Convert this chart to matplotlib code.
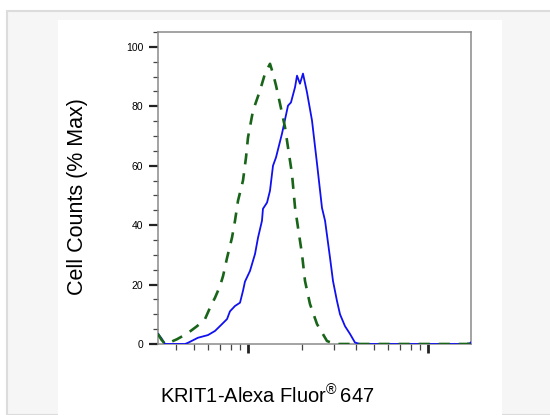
import matplotlib
matplotlib.use('Agg')
import matplotlib.pyplot as plt
from matplotlib.patches import Rectangle
from matplotlib.ticker import LogLocator, MultipleLocator, NullFormatter

plt.rcParams['font.family'] = ['Liberation Sans', 'DejaVu Sans']
plt.rcParams['mathtext.fontset'] = 'custom'
plt.rcParams['mathtext.rm'] = 'Liberation Sans'

# KRIT1 stained sample (blue, solid)
stain_x = [316, 330, 346, 447, 464, 527, 599, 656, 717, 765, 794, 847, 903, 938,
           962, 1026, 1094, 1137, 1196, 1211, 1276, 1325, 1377, 1431, 1545, 1668,
           1733, 1825, 1872, 1944, 2021, 2127, 2268, 2418, 2577, 2680, 2856, 2967,
           3121, 3245, 3459, 3687, 3929, 4191, 16800, 17300]
stain_y = [3.4, 2.0, 0, 0, 0.4, 2.1, 3.0, 4.4, 6.7, 8.4, 11.0, 12.8, 13.9, 17.9,
           21.0, 24.6, 30.3, 35.8, 41.5, 45.5, 47.6, 51.6, 60.0, 62.8, 70.8, 80.2,
           81.3, 86.4, 90.3, 87.6, 91.0, 84.7, 75.2, 60.7, 45.8, 41.5, 29.0, 21.2,
           14.5, 10.0, 6.0, 3.4, 0.5, 0, 0, 0.5]

# isotype / unstained control (green, dashed)
ctrl_x = [316, 330, 346, 360, 403, 459, 521, 577, 615, 656, 699, 727, 765, 815,
          847, 880, 938, 975, 1000, 1066, 1166, 1243, 1325, 1377, 1431, 1506,
          1606, 1668, 1755, 1825, 1896, 1995, 2074, 2209, 2418, 2748, 3041,
          16800, 17300]
ctrl_y = [3.4, 1.5, 0, 0.3, 1.6, 3.5, 6.0, 8.4, 12.2, 15.6, 19.5, 22.9, 29.0, 35.8,
          41.5, 48.2, 55.0, 62.8, 69.5, 78.5, 85.3, 91.0, 94.3, 91.0, 87.0, 80.9,
          72.9, 66.2, 57.3, 46.0, 39.2, 30.3, 21.2, 13.5, 6.7, 1.0, 0,
          0, 2.0]

y_ticks = [0, 20, 40, 60, 80, 100]

fig = plt.figure(figsize=(5.5, 4.15), dpi=100)
fig.patch.set_facecolor('white')

# page-like background panels
fig.add_artist(Rectangle((7 / 550, 0), 1, 1 - 11 / 415, transform=fig.transFigure,
                         facecolor='#f6f6f6', edgecolor='#dcdcdc', linewidth=1.5, zorder=-3))
fig.add_artist(Rectangle((58 / 550, 0), (502 - 58) / 550, 1 - 20 / 415,
                         transform=fig.transFigure, facecolor='white',
                         edgecolor='none', zorder=-2))

ax = fig.add_axes([158 / 550, 1 - 344 / 415, (471 - 158) / 550, (344 - 32) / 415])
ax.set_facecolor('white')

ax.plot(stain_x, stain_y, color='#1010f0', linewidth=1.3, zorder=3)
ax.plot(ctrl_x, ctrl_y, color='#186418', linewidth=1.9, dashes=(4.2, 3.4), zorder=4)

ax.set_xscale('log')
ax.set_xlim(10 ** 2.5, 10 ** 4.239)
ax.set_ylim(0, 105)

ax.xaxis.set_major_locator(LogLocator(base=10))
ax.xaxis.set_minor_locator(LogLocator(base=10, subs=range(2, 10)))
ax.xaxis.set_major_formatter(NullFormatter())
ax.xaxis.set_minor_formatter(NullFormatter())

ax.set_yticks(y_ticks)
ax.yaxis.set_minor_locator(MultipleLocator(5))

for s in ax.spines.values():
    s.set_color('#8a8a8a')
    s.set_linewidth(1.1)

ax.tick_params(axis='both', which='major', direction='out', length=6.5, width=1.6,
               color='#222222', labelsize=7.5, pad=4)
ax.tick_params(axis='both', which='minor', direction='out', length=3.8, width=0.9,
               color='#444444')
ax.tick_params(axis='x', which='major', length=6.5, width=2.0)
ax.tick_params(axis='x', which='minor', length=4.0)

fig.text(78 / 550, 1 - 197 / 415, 'Cell Counts (% Max)', rotation=90,
         ha='center', va='center', fontsize=15.5)
fig.text(160 / 550, 1 - 396 / 415, r'KRIT1-Alexa Fluor$^{\mathrm{®}}\,$647',
         ha='left', va='center', fontsize=14.5)

fig.savefig('out.png', dpi=100)
